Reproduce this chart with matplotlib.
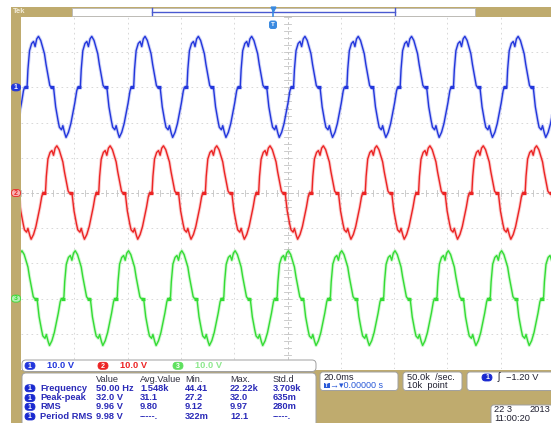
import numpy as np
import matplotlib
matplotlib.use('Agg')
import matplotlib.pyplot as plt
from matplotlib.patches import Rectangle, FancyBboxPatch

# one period of the (notched, double-humped) phase voltage
# time in ms from the up-going notch, value normalised to the peak
cycle_t = [0.0, 0.5, 0.8, 1.4, 2.2, 2.9, 3.5, 4.1, 4.75, 5.6, 6.4, 7.0, 7.6, 8.3, 9.0, 9.5,
           10.0, 10.5, 11.2, 12.1, 12.6, 13.4, 13.9, 14.6, 15.1, 16.0, 16.9, 17.6, 18.4, 19.1, 19.5]
cycle_v = [0.0, 0.03, 0.35, 0.72, 0.86, 0.9, 0.8, 0.95, 1.0, 0.92, 0.77, 0.66, 0.45, 0.24, 0.04, 0.0,
           0.0, -0.04, -0.38, -0.65, -0.78, -0.83, -0.75, -0.9, -0.98, -0.88, -0.71, -0.52, -0.3, -0.07, 0.0]
notch_t = [0.0, 10.0]
period_ms = 20.0

ch_labels = ['1', '2', '3']
ch_colors = ['#2236dc', '#ec2424', '#34dc34']
ch_pale = ['#2236dc', '#f6b4b4', '#b4f0b4']
ch_pos_div = [3, 0, -3]          # trace position, divisions
ch_amp_v = [14.5, 13.4, 13.6]    # peak volts
ch_delay_ms = [1.8, 8.7, 15.6]
volts_div = 10.0
ms_div = 20.0
ch_scale_txt = ['10.0 V', '10.0 V', '10.0 V']

meas_head = ['Value', 'Avg.Value', 'Min.', 'Max.', 'Std.d']
meas_names = ['Frequency', 'Peak-peak', 'RMS', 'Period RMS']
meas_vals = [['50.00 Hz', '1.548k', '44.41', '22.22k', '3.709k'],
             ['32.0 V', '31.1', '27.2', '32.0', '635m'],
             ['9.96 V', '9.80', '9.12', '9.97', '280m'],
             ['9.98 V', '-----.', '322m', '12.1', '-----.']]

W, H = 551, 423
TAN = '#bfab6e'
TXT = '#2a2ab8'
FONT = ['Liberation Sans', 'DejaVu Sans']

fig = plt.figure(figsize=(W / 100, H / 100), dpi=100)
fig.patch.set_facecolor('white')

# graticule area: 10 x 10 divisions, x 21..554 px, y 17..369 px
ax = fig.add_axes([21 / W, 1 - 369 / H, 533 / W, 352 / H])
ax.set_xlim(0, 10 * ms_div)
ax.set_ylim(-5, 5)
ax.axis('off')

for i in range(1, 10):
    ax.axvline(i * ms_div, color='#d2d2d2', lw=0.6, ls=(0, (2, 4)), zorder=0)
for j in range(-4, 5):
    ax.axhline(j, color='#d2d2d2', lw=0.6, ls=(0, (2, 4)), zorder=0)
ax.axvline(5 * ms_div, color='#c4c4c4', lw=0.6, ls=(0, (3, 3)), zorder=0)
ax.axhline(0, color='#c4c4c4', lw=0.6, ls=(0, (3, 3)), zorder=0)
for k in np.arange(-5, 5.01, 0.2):
    ax.plot([5 * ms_div - 1.2, 5 * ms_div + 1.2], [k, k], color='#c4c4c4', lw=0.6, zorder=0)
for k in np.arange(0, 10 * ms_div + 0.1, ms_div / 5):
    ax.plot([k, k], [-0.08, 0.08], color='#c4c4c4', lw=0.6, zorder=0)

ct = np.array(cycle_t)
cv = np.array(cycle_v)
for lab, col, pos, amp, dly in zip(ch_labels, ch_colors, ch_pos_div, ch_amp_v, ch_delay_ms):
    ks = range(-2, 12)
    t = np.concatenate([ct + k * period_ms + dly for k in ks])
    v = np.tile(cv, len(ks)) * amp
    y = pos + v / volts_div
    ax.plot(t, y, color=col, lw=2.4, alpha=0.22, zorder=2)
    ax.plot(t, y, color=col, lw=1.0, zorder=3)
    nt = np.concatenate([np.array(notch_t) + k * period_ms + dly for k in ks])
    ax.plot(nt, np.full(nt.shape, float(pos)), ls='none', marker='_', ms=3.5, mew=2.4,
            color=col, zorder=4)

# overlay in pixel coordinates for the scope frame and readouts
ov = fig.add_axes([0, 0, 1, 1])
ov.set_xlim(0, W)
ov.set_ylim(H, 0)
ov.axis('off')
ov.set_zorder(5)
ov.patch.set_alpha(0)


def box(x0, y0, x1, y1, fc='white', ec='#a0a0a0', r=3, lw=0.7):
    ov.add_patch(FancyBboxPatch((x0, y0), x1 - x0, y1 - y0,
                                boxstyle='round,pad=0,rounding_size=%g' % r,
                                fc=fc, ec=ec, lw=lw))


def pill(xc, yc, s, fc, w=10, h=7, tc='white', ec=None):
    box(xc - w / 2, yc - h / 2, xc + w / 2, yc + h / 2, fc=fc, ec=ec or fc, r=h / 2, lw=0.6)
    ov.text(xc, yc + 0.3, s, color=tc, fontsize=5, fontweight='bold', ha='center',
            va='center', family=FONT)


def txt(x, y, s, c=TXT, fs=6.7, **kw):
    ov.text(x, y, s, color=c, fontsize=fs, ha=kw.pop('ha', 'left'), va='center',
            family=FONT, **kw)


# top record bar
ov.add_patch(Rectangle((11, 7), W - 11, 10, fc=TAN, ec='none'))
ov.add_patch(Rectangle((72, 8), 403, 8, fc='white', ec='#b8b8b8', lw=0.6))
ov.plot([152, 395], [11.8, 11.8], color='#4a5ad0', lw=1.0)
ov.plot([152, 152], [8.5, 15.5], color='#4a5ad0', lw=1.0)
ov.plot([395, 395], [8.5, 15.5], color='#4a5ad0', lw=1.0)
ov.plot([273, 273], [8, 16], color='#3a8ae0', lw=1.2)
ov.plot(273, 9, marker='v', ms=3.5, color='#3a8ae0')
box(269.5, 21, 276.5, 28.5, fc='#3a8ae0', ec='#3a8ae0', r=2)
ov.text(273, 24.8, 'T', color='white', fontsize=4.5, fontweight='bold', ha='center',
        va='center', family=FONT)
txt(13, 11.8, 'Tek', c='#f2ecd8', fs=5.5, fontweight='bold')

# left strip with channel position markers
ov.add_patch(Rectangle((11, 7), 10, H - 7, fc=TAN, ec='none'))
for lab, col, pale, pos in zip(ch_labels, ch_colors, ch_pale, ch_pos_div):
    yc = 193 - pos * 35.2
    tc = 'white' if pale == col else col
    pill(16, yc, lab, pale, w=9, h=7, tc=tc, ec=col)

# bottom readout panel
ov.add_patch(Rectangle((11, 370), W - 11, H - 370, fc=TAN, ec='none'))
box(22, 360, 316, 371.5, r=4)
for i, (lab, col, pale) in enumerate(zip(ch_labels, ch_colors, ch_pale)):
    x0 = [30, 103, 178][i]
    fc = col if i < 2 else '#5ee05e'
    pill(x0, 365.8, lab, fc, w=10, h=7)
    txt(x0 + 17, 366, ch_scale_txt[i], c=col if i < 2 else '#8ee88e', fontweight='bold')

box(22, 373, 316, 428, r=4)
head_x = [96, 140, 185, 230, 273]
row_y = [388.3, 398, 406.8, 416.5]
for hx, h in zip(head_x, meas_head):
    txt(hx, 379, h, c='#303040')
for ry, name, vals in zip(row_y, meas_names, meas_vals):
    pill(30, ry, '1', '#1a2ad0', w=10, h=7)
    txt(40, ry, name, fontweight='bold')
    for hx, v in zip(head_x, vals):
        txt(hx, ry, v, fontweight='bold')

# timebase / acquisition / trigger boxes
box(320, 372, 398, 390.5)
txt(324, 377, '20.0ms', c='#202030')
ov.add_patch(Rectangle((323.5, 383), 6, 5.5, fc='#2a5ad8', ec='none'))
ov.text(326.5, 385.8, 'T', color='white', fontsize=4, fontweight='bold', ha='center',
        va='center', family=FONT)
txt(330.5, 385.8, '\u2192\u25be0.00000 s', c='#2a5ad8', fs=6.5)
box(403, 372, 462, 390.5)
txt(407, 377, '50.0k  /sec.', c='#202030')
txt(407, 386, '10k  point', c='#202030')
box(467, 372, 560, 390.5)
pill(487, 377.5, '1', '#1a2ad0', w=10, h=7)
txt(498, 377.5, '\u0283', c='#202030', fs=7)
txt(506, 377.5, '\u22121.20 V', c='#202030')
box(491, 405, 560, 428)
txt(494, 410, '22 3', c='#202030')
txt(530, 410, '2013', c='#202030')
txt(494, 418.5, '11:00:20', c='#202030')

fig.savefig('out.png', dpi=100, facecolor='white')
